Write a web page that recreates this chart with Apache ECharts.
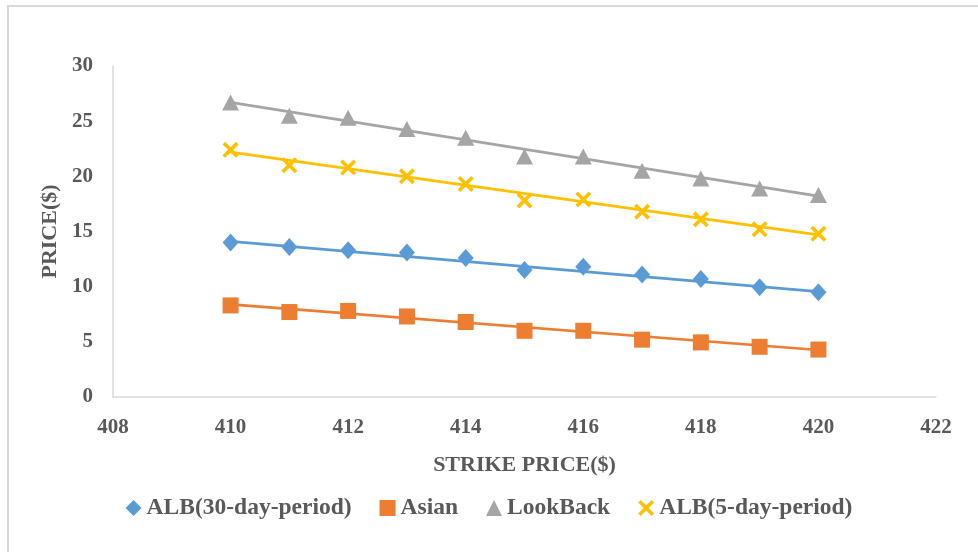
<!DOCTYPE html>
<html><head><meta charset="utf-8">
<script src="https://cdn.jsdelivr.net/npm/echarts@6/dist/echarts.min.js"></script>
<style>html,body{margin:0;padding:0;background:#fff}#c{width:978px;height:552px}</style>
</head><body><div id="c"></div>
<script>
const strikes = [410, 411, 412, 413, 414, 415, 416, 417, 418, 419, 420];
const alb30 = [14.0, 13.6, 13.3, 13.1, 12.6, 11.5, 11.8, 11.1, 10.7, 9.95, 9.5];
const asian = [8.3, 7.7, 7.8, 7.3, 6.8, 6.0, 6.0, 5.2, 4.95, 4.55, 4.3];
const lookback = [26.7, 25.5, 25.3, 24.3, 23.5, 21.8, 21.8, 20.5, 19.8, 18.9, 18.3];
const alb5 = [22.4, 21.0, 20.8, 20.0, 19.3, 17.8, 17.9, 16.8, 16.1, 15.2, 14.8];
// linear trendline endpoints (at first and last strike)
const trendX = [410, 420];
const alb30Trend = [14.1, 9.55];
const asianTrend = [8.4, 4.26];
const lookbackTrend = [26.7, 18.2];
const alb5Trend = [22.2, 14.7];
const names = ['ALB(30-day-period)', 'Asian', 'LookBack', 'ALB(5-day-period)'];

const FONT = '"Liberation Serif", "Times New Roman", serif';
const TXT = '#595959';
const colors = ['#5B9BD5', '#ED7D31', '#A5A5A5', '#FFC000'];
const xPath = 'path://M0,1.6 L1.6,0 L5,3.4 L8.4,0 L10,1.6 L6.6,5 L10,8.4 L8.4,10 L5,6.6 L1.6,10 L0,8.4 L3.4,5 Z';
const symbols = ['diamond', 'rect', 'triangle', xPath];
const symSizes = [[16, 18], 16, [17, 16], 16];
const vals = [alb30, asian, lookback, alb5];
const trends = [alb30Trend, asianTrend, lookbackTrend, alb5Trend];

const series = [];
trends.forEach((t, i) => {
  series.push({
    name: 'trend' + i, type: 'line', data: trendX.map((x, k) => [x, t[k]]),
    showSymbol: false, symbol: 'none', silent: true, z: 2,
    lineStyle: {color: colors[i], width: 2.75}
  });
});
vals.forEach((v, i) => {
  series.push({
    name: names[i], type: 'scatter', data: strikes.map((x, k) => [x, v[k]]),
    symbol: symbols[i], symbolSize: symSizes[i], z: 3,
    itemStyle: {color: colors[i], opacity: 1}
  });
});

const chart = echarts.init(document.getElementById('c'), null, {renderer: 'canvas'});
chart.setOption({
  animation: false,
  color: colors,
  graphic: [{type: 'rect', shape: {x: 8, y: 6, width: 1000, height: 600},
    style: {fill: 'none', stroke: '#d9d9d9', lineWidth: 2}, z: -1}],
  grid: {left: 113, right: 42, top: 66, bottom: 155, containLabel: false},
  xAxis: {
    type: 'value', min: 408, max: 422, interval: 2,
    name: 'STRIKE PRICE($)', nameLocation: 'middle', nameGap: 57,
    nameTextStyle: {fontFamily: FONT, fontWeight: 'bold', fontSize: 22, color: TXT},
    axisLine: {show: true, lineStyle: {color: '#d9d9d9', width: 1.5}},
    axisTick: {show: false}, splitLine: {show: false},
    axisLabel: {fontFamily: FONT, fontWeight: 'bold', fontSize: 21, color: TXT, margin: 20}
  },
  yAxis: {
    type: 'value', min: 0, max: 30, interval: 5,
    name: 'PRICE($)', nameLocation: 'middle', nameGap: 51,
    nameTextStyle: {fontFamily: FONT, fontWeight: 'bold', fontSize: 22, color: TXT},
    axisLine: {show: true, lineStyle: {color: '#d9d9d9', width: 1.5}},
    axisTick: {show: false}, splitLine: {show: false},
    axisLabel: {fontFamily: FONT, fontWeight: 'bold', fontSize: 21, color: TXT, margin: 20}
  },
  legend: {
    data: names, bottom: 27, left: 'center', itemWidth: 16, itemHeight: 16, itemGap: 28,
    textStyle: {fontFamily: FONT, fontWeight: 'bold', fontSize: 23.5, color: TXT}
  },
  series: series
});
</script></body></html>
